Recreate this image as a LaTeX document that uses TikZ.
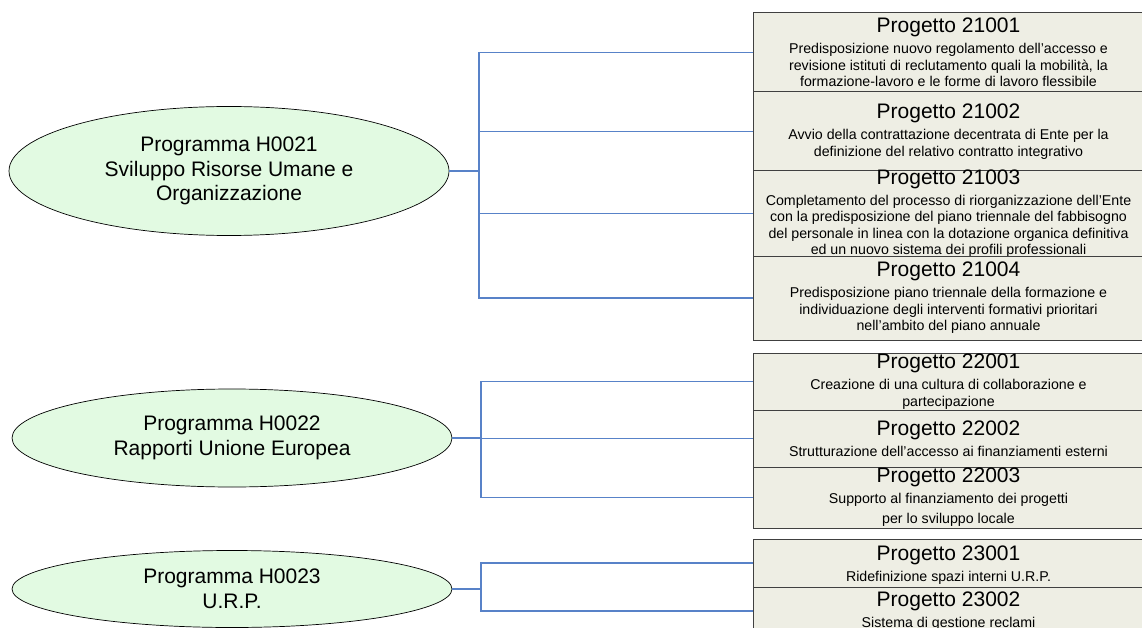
\documentclass[tikz,border=0pt]{standalone}
\usepackage{fontspec}
\setmainfont{Liberation Sans}
\usepackage{tikz}
\usetikzlibrary{shapes.geometric}

\definecolor{proggreen}{RGB}{226,250,226}
\definecolor{projfill}{RGB}{238,238,228}
\definecolor{linkblue}{RGB}{88,130,200}

\begin{document}
\begin{tikzpicture}[
		x=1pt, y=-1pt,
		prog/.style={ellipse, draw, fill=proggreen, line width=0.7pt, minimum width=440pt, inner sep=0pt, align=center, font=\fontsize{21}{24.5}\selectfont},
		proj/.style={rectangle, draw=black!75, fill=projfill, line width=1pt, minimum width=391pt, inner sep=0pt},
		projtext/.style={align=center, inner sep=0pt, font=\fontsize{14.2}{16.5}\selectfont},
		link/.style={draw=linkblue, line width=1.1pt}
	]
  \useasboundingbox (0,0) rectangle (1142,628);

  % programmi
  \node (h21) [prog, minimum height=129pt] at (229, 171) {Programma H0021\\Sviluppo Risorse Umane e\\Organizzazione};
  \node (h22) [prog, minimum height=98pt] at (232, 438) {Programma H0022\\Rapporti Unione Europea};
  \node (h23) [prog, minimum height=77pt] at (232, 589) {Programma H0023\\U.R.P.};

  \coordinate (j21) at (479, 171);
  \coordinate (j22) at (481, 438);
  \coordinate (j23) at (481, 589);

  % progetti
  \node (p21001) [proj, minimum height=79pt] at (948.5, 52.5) {};
  \node (p21002) [proj, minimum height=79pt] at (948.5, 131.5) {};
  \node (p21003) [proj, minimum height=85pt] at (948.5, 213.5) {};
  \node (p21004) [proj, minimum height=84pt] at (948.5, 298) {};
  \node (p22001) [proj, minimum height=57pt] at (948.5, 381.5) {};
  \node (p22002) [proj, minimum height=57pt] at (948.5, 438.5) {};
  \node (p22003) [proj, minimum height=61pt] at (948.5, 497.5) {};
  \node (p23001) [proj, minimum height=48pt] at (948.5, 563) {};
  \node (p23002) [proj, minimum height=48pt] at (948.5, 611) {};

  \draw [link] (h21.east) -- (j21);
  \draw [link] (j21) |- (p21001.west);
  \draw [link] (j21) |- (p21002.west);
  \draw [link] (j21) |- (p21003.west);
  \draw [link] (j21) |- (p21004.west);
  \draw [link] (h22.east) -- (j22);
  \draw [link] (j22) |- (p22001.west);
  \draw [link] (j22) |- (p22002.west);
  \draw [link] (j22) |- (p22003.west);
  \draw [link] (h23.east) -- (j23);
  \draw [link] (j23) |- (p23001.west);
  \draw [link] (j23) |- (p23002.west);

  % testi, box per box
  \node (t21001) [projtext] at (p21001.center) {{\fontsize{21}{21}\selectfont Progetto 21001}\\[4.5pt]Predisposizione nuovo regolamento dell’accesso e\\revisione istituti di reclutamento quali la mobilità, la\\formazione-lavoro e le forme di lavoro flessibile};
  \node (t21002) [projtext] at (p21002.center) {{\fontsize{21}{21}\selectfont Progetto 21002}\\[4.5pt]Avvio della contrattazione decentrata di Ente per la\\definizione del relativo contratto integrativo};
  \node (b21003) [proj, minimum height=85pt] at (p21003.center) {};
  \node (t21003) [projtext] at (p21003.center) {{\fontsize{21}{21}\selectfont Progetto 21003}\\[4.5pt]Completamento del processo di riorganizzazione dell’Ente\\con la predisposizione del piano triennale del fabbisogno\\del personale in linea con la dotazione organica definitiva\\ed un nuovo sistema dei profili professionali};
  \node (b21004) [proj, minimum height=84pt] at (p21004.center) {};
  \node (t21004) [projtext] at (p21004.center) {{\fontsize{21}{21}\selectfont Progetto 21004}\\[4.5pt]Predisposizione piano triennale della formazione e\\individuazione degli interventi formativi prioritari\\nell’ambito del piano annuale};
  \node (t22001) [projtext] at (p22001.center) {{\fontsize{21}{21}\selectfont Progetto 22001}\\[4.5pt]Creazione di una cultura di collaborazione e\\partecipazione};
  \node (b22002) [proj, minimum height=57pt] at (p22002.center) {};
  \node (t22002) [projtext] at (p22002.center) {{\fontsize{21}{21}\selectfont Progetto 22002}\\[4.5pt]Strutturazione dell’accesso ai finanziamenti esterni};
  \node (b22003) [proj, minimum height=61pt] at (p22003.center) {};
  \node (t22003) [projtext] at (p22003.center) {{\fontsize{21}{21}\selectfont Progetto 22003}\\[4.5pt]Supporto al finanziamento dei progetti\\[3.5pt]per lo sviluppo locale};
  \node (t23001) [projtext, yshift=-2pt] at (p23001.center) {{\fontsize{21}{21}\selectfont Progetto 23001}\\[4.5pt]Ridefinizione spazi interni U.R.P.};
  \node (t23002) [projtext] at (p23002.center) {{\fontsize{21}{21}\selectfont Progetto 23002}\\[4.5pt]Sistema di gestione reclami};
\end{tikzpicture}
\end{document}
